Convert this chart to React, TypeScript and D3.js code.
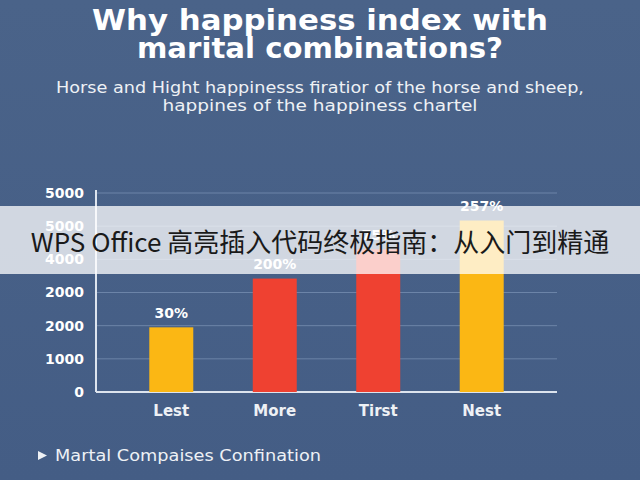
import * as React from "react";
import * as d3 from "d3";

const categories = ["Lest", "More", "Tirst", "Nest"];
const values = [1950, 3420, 4300, 5170];
const valueLabels = ["30%", "200%", "75%", "257%"];
const barColors = ["#fbb714", "#ef4131", "#ef4131", "#fbb714"];
const tickValues = [0, 1000, 2000, 3000, 4000, 5000, 6000];
const tickLabels = ["0", "1000", "2000", "2000", "4000", "5000", "5000"];
const titleLines = ["Why happiness index with", "marital combinations?"];
const titleWidths = [456, 366];
const subtitleLines = [
  "Horse and Hight happinesss firatior of the horse and sheep,",
  "happines of the happiness chartel",
];
const subtitleWidths = [528, 315];
const footer = "Martal Compaises Confination";
const banner = "WPS Office 高亮插入代码终极指南：从入门到精通";

const W = 640;
const H = 480;
const margin = { left: 96, right: 83, top: 193, bottom: 88 };
const font = "'DejaVu Sans', 'Open Sans', sans-serif";

const App = () => {
  const x = d3
    .scaleBand()
    .domain(categories)
    .range([margin.left, W - margin.right])
    .paddingInner(0.575)
    .paddingOuter(0.515);
  const y = d3
    .scaleLinear()
    .domain([0, 6000])
    .range([H - margin.bottom, margin.top]);

  return (
    <svg
      width={W}
      height={H}
      style={{ position: "absolute", left: 0, top: 0, display: "block" }}
    >
      <defs>
        <linearGradient id="bg" x1="0" y1="0" x2="0" y2="1">
          <stop offset="0" stopColor="#4a6389" />
          <stop offset="1" stopColor="#445d85" />
        </linearGradient>
      </defs>
      <rect width={W} height={H} fill="url(#bg)" />

      {titleLines.map((t, i) => (
        <text
          key={t}
          x={W / 2}
          y={30 + i * 28}
          textAnchor="middle"
          fill="#ffffff"
          fontFamily={font}
          fontWeight={700}
          fontSize={28}
          textLength={titleWidths[i]}
          lengthAdjust="spacingAndGlyphs"
        >
          {t}
        </text>
      ))}
      {subtitleLines.map((t, i) => (
        <text
          key={t}
          x={W / 2}
          y={93 + i * 18}
          textAnchor="middle"
          fill="#eef1f5"
          fontFamily={font}
          fontSize={15}
          textLength={subtitleWidths[i]}
          lengthAdjust="spacingAndGlyphs"
        >
          {t}
        </text>
      ))}

      {tickValues.map((v, i) => (
        <g key={i}>
          {v > 0 && (
            <line
              x1={margin.left}
              x2={W - margin.right}
              y1={y(v)}
              y2={y(v)}
              stroke="#6c84a8"
              strokeWidth={1}
            />
          )}
          <text
            x={84}
            y={y(v)}
            dy="0.35em"
            textAnchor="end"
            fill="#ffffff"
            fontFamily={font}
            fontWeight={700}
            fontSize={14}
          >
            {tickLabels[i]}
          </text>
        </g>
      ))}

      <line
        x1={margin.left}
        x2={margin.left}
        y1={y(6000) - 3}
        y2={y(0)}
        stroke="#dde4ee"
        strokeWidth={2}
      />
      <line
        x1={margin.left}
        x2={W - margin.right}
        y1={y(0)}
        y2={y(0)}
        stroke="#dde4ee"
        strokeWidth={2}
      />

      {categories.map((c, i) => (
        <g key={c}>
          <rect
            x={x(c)}
            y={y(values[i])}
            width={x.bandwidth()}
            height={y(0) - y(values[i])}
            fill={barColors[i]}
          />
          <text
            x={(x(c) as number) + x.bandwidth() / 2}
            y={y(values[i]) - 14}
            dy="0.35em"
            textAnchor="middle"
            fill="#ffffff"
            fontFamily={font}
            fontWeight={700}
            fontSize={14}
          >
            {valueLabels[i]}
          </text>
          <text
            x={(x(c) as number) + x.bandwidth() / 2}
            y={y(0) + 19}
            dy="0.35em"
            textAnchor="middle"
            fill="#eef1f5"
            fontFamily={font}
            fontWeight={700}
            fontSize={15}
          >
            {c}
          </text>
        </g>
      ))}

      <path d="M38,451 L47,455.5 L38,460 Z" fill="#eef1f5" />
      <text
        x={55}
        y={456}
        dy="0.35em"
        fill="#eef1f5"
        fontFamily={font}
        fontSize={15}
        textLength={266}
        lengthAdjust="spacingAndGlyphs"
      >
        {footer}
      </text>

      <rect x={0} y={206} width={W} height={68} fill="#ffffff" opacity={0.75} />
      <text
        x={W / 2}
        y={243}
        dy="0.35em"
        textAnchor="middle"
        fill="#1a1a1a"
        fontFamily="'Noto Sans CJK SC', 'Noto Sans', sans-serif"
        fontSize={26}
      >
        {banner}
      </text>
    </svg>
  );
};

export default App;
